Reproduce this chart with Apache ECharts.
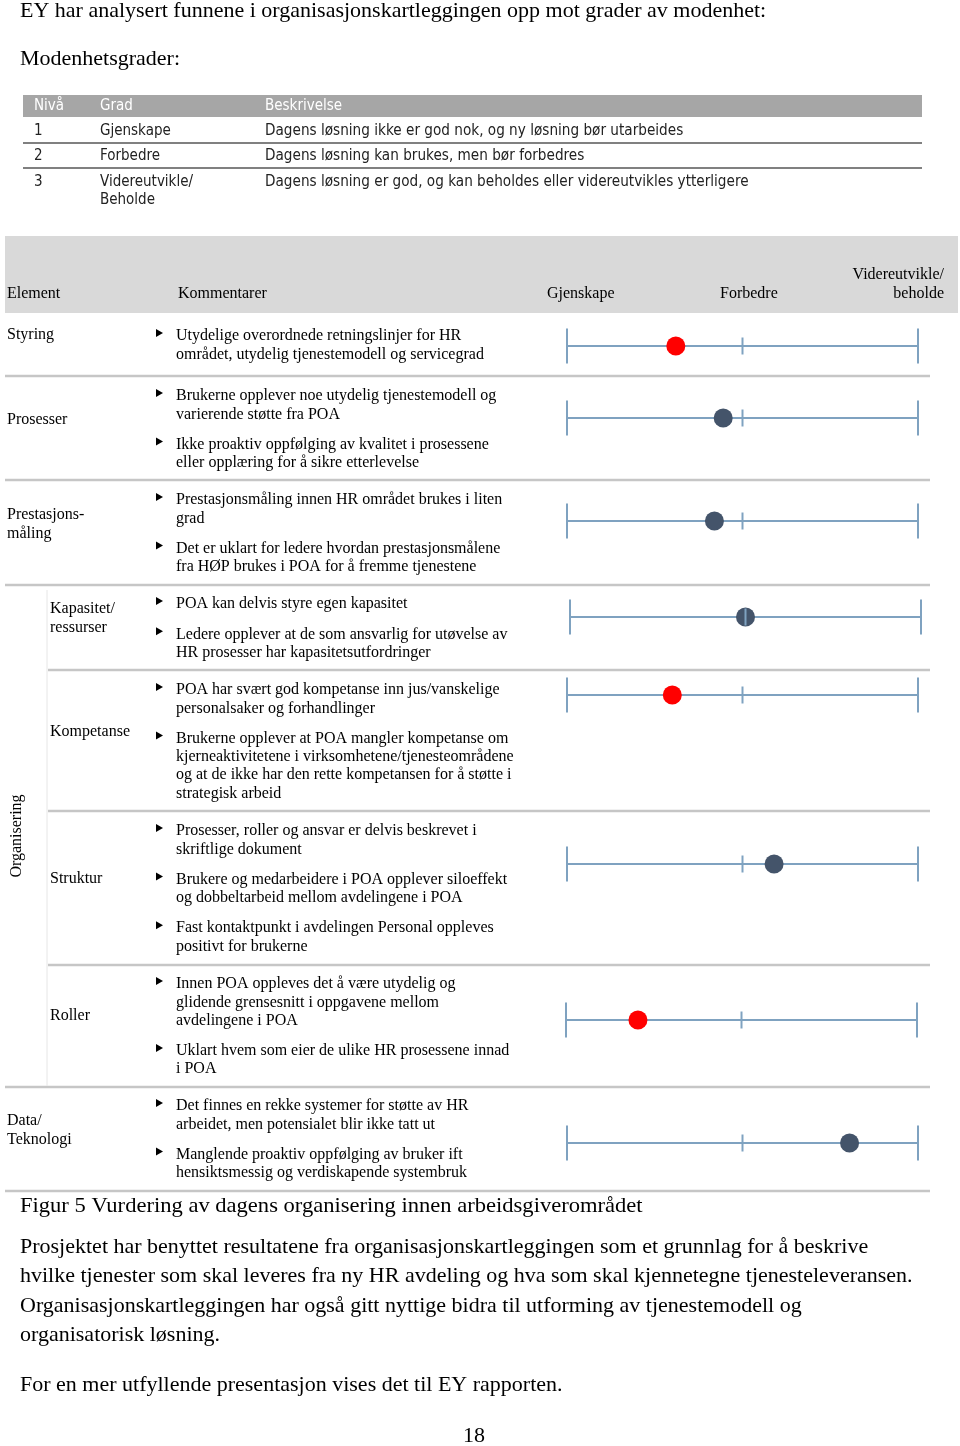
<!DOCTYPE html>
<html><head><meta charset="utf-8">
<script src="https://cdn.jsdelivr.net/npm/echarts@6/dist/echarts.min.js"></script>
<style>html,body{margin:0;padding:0;background:#fff}#c{width:960px;height:1446px}</style>
</head><body><div id="c"></div>
<script>
// ---------- data ----------
const introText = 'EY har analysert funnene i organisasjonskartleggingen opp mot grader av modenhet:';
const gradesTitle = 'Modenhetsgrader:';
const gradeHeader = ['Nivå', 'Grad', 'Beskrivelse'];
const gradeLevels = ['1', '2', '3'];
const gradeNames = [['Gjenskape'], ['Forbedre'], ['Videreutvikle/', 'Beholde']];
const gradeDescriptions = [
  'Dagens løsning ikke er god nok, og ny løsning bør utarbeides',
  'Dagens løsning kan brukes, men bør forbedres',
  'Dagens løsning er god, og kan beholdes eller videreutvikles ytterligere'
];
const tableHeader = ['Element', 'Kommentarer', 'Gjenskape', 'Forbedre'];
const tableHeaderLast = ['Videreutvikle/', 'beholde'];
const groupLabel = 'Organisering';
const elementLabels = [['Styring'], ['Prosesser'], ['Prestasjons-', 'måling'], ['Kapasitet/', 'ressurser'],
  ['Kompetanse'], ['Struktur'], ['Roller'], ['Data/', 'Teknologi']];
const comments = [
  [['Utydelige overordnede retningslinjer for HR', 'området, utydelig tjenestemodell og servicegrad']],
  [['Brukerne opplever noe utydelig tjenestemodell og', 'varierende støtte fra POA'],
   ['Ikke proaktiv oppfølging av kvalitet i prosessene', 'eller opplæring for å sikre etterlevelse']],
  [['Prestasjonsmåling innen HR området brukes i liten', 'grad'],
   ['Det er uklart for ledere hvordan prestasjonsmålene', 'fra HØP brukes i POA for å fremme tjenestene']],
  [['POA kan delvis styre egen kapasitet'],
   ['Ledere opplever at de som ansvarlig for utøvelse av', 'HR prosesser har kapasitetsutfordringer']],
  [['POA har svært god kompetanse inn jus/vanskelige', 'personalsaker og forhandlinger'],
   ['Brukerne opplever at POA mangler kompetanse om', 'kjerneaktivitetene i virksomhetene/tjenesteområdene', 'og at de ikke har den rette kompetansen for å støtte i', 'strategisk arbeid']],
  [['Prosesser, roller og ansvar er delvis beskrevet i', 'skriftlige dokument'],
   ['Brukere og medarbeidere i POA opplever siloeffekt', 'og dobbeltarbeid mellom avdelingene i POA'],
   ['Fast kontaktpunkt i avdelingen Personal oppleves', 'positivt for brukerne']],
  [['Innen POA oppleves det å være utydelig og', 'glidende grensesnitt i oppgavene mellom', 'avdelingene i POA'],
   ['Uklart hvem som eier de ulike HR prosessene innad', 'i POA']],
  [['Det finnes en rekke systemer for støtte av HR', 'arbeidet, men potensialet blir ikke tatt ut'],
   ['Manglende proaktiv oppfølging av bruker ift', 'hensiktsmessig og verdiskapende systembruk']]
];
// maturity score on scale 1 (Gjenskape) .. 2 (Forbedre) .. 3 (Videreutvikle/beholde)
const scores = [1.62, 1.89, 1.84, 2.0, 1.60, 2.18, 1.41, 2.61];
const scoreKinds = ['red', 'blue', 'blue', 'blue', 'red', 'blue', 'red', 'blue'];
const scaleTicks = [1, 2, 3];
const caption = 'Figur 5 Vurdering av dagens organisering innen arbeidsgiverområdet';
const paragraph = [
  'Prosjektet har benyttet resultatene fra organisasjonskartleggingen som et grunnlag for å beskrive',
  'hvilke tjenester som skal leveres fra ny HR avdeling og hva som skal kjennetegne tjenesteleveransen.',
  'Organisasjonskartleggingen har også gitt nyttige bidra til utforming av tjenestemodell og',
  'organisatorisk løsning.'
];
const closing = 'For en mer utfyllende presentasjon vises det til EY rapporten.';
const pageNumber = '18';

// ---------- layout ----------
const SERIF = '"Liberation Serif","Times New Roman",serif';
const NARROW = '"Liberation Sans Narrow","DejaVu Sans Condensed","Liberation Sans",sans-serif';
const kindColor = { red: '#FF0000', blue: '#44546A' };
const scaleColor = '#7FA2C0';
const rowLineY = [346, 418, 521, 617, 695, 864, 1020, 1143];
const rowScaleLeft = [567, 567, 567, 570, 567, 567, 566, 567];
const scaleWidth = 351;
const rowFirstY = [336, 396, 500, 604, 690, 831, 984, 1106];
const labelX = [7, 7, 7, 50, 50, 50, 50, 7];
const labelY = [335, 420, 515, 609, 732, 879, 1016, 1121];
const separators = [[5, 376], [5, 480], [5, 585], [48, 670], [48, 811], [48, 965], [5, 1087], [5, 1191]];
const BODY = 22, TABLE = 16;

const g = [];
function txt(x, y, s, size, opt) {
  opt = opt || {};
  g.push({
    type: 'text', x: x, y: y, rotation: opt.rot || 0, scaleX: opt.sx || 1, z: 10,
    style: {
      text: s, font: (opt.weight || 'normal') + ' ' + size + 'px ' + (opt.family || SERIF),
      fill: opt.fill || '#000',
      align: opt.align || 'left', verticalAlign: 'middle',
      textAlign: opt.align || 'left', textVerticalAlign: 'middle'
    }
  });
}
function rect(x, y, w, h, fill) {
  g.push({ type: 'rect', shape: { x: x, y: y, width: w, height: h }, style: { fill: fill }, z: 1 });
}
function line(x1, y1, x2, y2, stroke, w) {
  g.push({ type: 'line', shape: { x1: x1, y1: y1, x2: x2, y2: y2 }, style: { stroke: stroke, lineWidth: w }, z: 2 });
}
function bullet(x, y) {
  g.push({ type: 'polygon', shape: { points: [[x, y - 4], [x + 7, y], [x, y + 4]] }, style: { fill: '#000' }, z: 10 });
}

// intro
txt(20, 11, introText, BODY);
txt(20, 59, gradesTitle, BODY);

// maturity grade table
rect(23, 95, 899, 22, '#A6A6A6');
const gcols = [34, 100, 265];
gradeHeader.forEach((h, i) => txt(gcols[i], 106, h, 15, { family: NARROW, fill: '#fff' }));
const growY = [131, 156, 182];
gradeLevels.forEach((lv, i) => {
  txt(gcols[0], growY[i], lv, 15, { family: NARROW, fill: '#222' });
  gradeNames[i].forEach((n, j) => txt(gcols[1], growY[i] + j * 18, n, 15, { family: NARROW, fill: '#222' }));
  txt(gcols[2], growY[i], gradeDescriptions[i], 15, { family: NARROW, fill: '#222', sx: 1.01 });
});
line(23, 143, 922, 143, '#808080', 2);
line(23, 168, 922, 168, '#808080', 2);

// main table header
rect(5, 236, 953, 77, '#D9D9D9');
const hcols = [7, 178, 547, 720];
tableHeader.forEach((h, i) => txt(hcols[i], 294, h, TABLE));
txt(944, 275, tableHeaderLast[0], TABLE, { align: 'right' });
txt(944, 294, tableHeaderLast[1], TABLE, { align: 'right' });

// separators
separators.forEach(s => line(s[0], s[1], 930, s[1], '#C6C6C6', 2.5));
line(47, 590, 47, 1086, '#E6E6E6', 1);
txt(17, 836, groupLabel, TABLE, { rot: Math.PI / 2, align: 'center' });

// rows text
elementLabels.forEach((lab, i) => {
  lab.forEach((l, j) => txt(labelX[i], labelY[i] + j * 18.5, l, TABLE));
  let y = rowFirstY[i];
  comments[i].forEach((b, bi) => {
    if (bi > 0) y += 30.3;
    bullet(156, y - 3);
    b.forEach((l, li) => {
      if (li > 0) y += 18.3;
      txt(176, y, l, TABLE);
    });
  });
});

// footer text
txt(20, 1206, caption, BODY, { sx: 1.025 });
paragraph.forEach((p, i) => txt(20, 1247 + i * 29.5, p, BODY));
txt(20, 1385, closing, BODY);
txt(474, 1436, pageNumber, BODY, { align: 'center' });

// ---------- grids: one maturity scale per row ----------
const grids = [], xAxes = [], yAxes = [], series = [];
scores.forEach((v, i) => {
  grids.push({ left: rowScaleLeft[i], width: scaleWidth, top: rowLineY[i] - 17, height: 34 });
  xAxes.push({
    gridIndex: i, type: 'value', min: scaleTicks[0], max: scaleTicks[scaleTicks.length - 1], interval: 1,
    axisLine: { show: true, onZero: true, lineStyle: { color: scaleColor, width: 2 } },
    axisTick: { show: false }, axisLabel: { show: false }, splitLine: { show: false }
  });
  yAxes.push({ gridIndex: i, type: 'value', min: -1, max: 1, show: false });
  series.push({
    type: 'scatter', xAxisIndex: i, yAxisIndex: i, symbol: 'circle', symbolSize: 19,
    itemStyle: { color: kindColor[scoreKinds[i]], opacity: 1 }, z: 3, silent: true,
    data: [[v, 0]]
  });
  series.push({
    type: 'scatter', xAxisIndex: i, yAxisIndex: i, symbol: 'rect', z: 4, silent: true,
    itemStyle: { color: scaleColor, opacity: 1 },
    data: scaleTicks.map((t, k) => ({ value: [t, 0], symbolSize: (k === 1) ? [2, 17] : [2, 35] }))
  });
});

const chart = echarts.init(document.getElementById('c'), null, { renderer: 'canvas' });
chart.setOption({
  backgroundColor: '#fff', animation: false,
  grid: grids, xAxis: xAxes, yAxis: yAxes, series: series, graphic: { elements: g }
});
</script></body></html>
